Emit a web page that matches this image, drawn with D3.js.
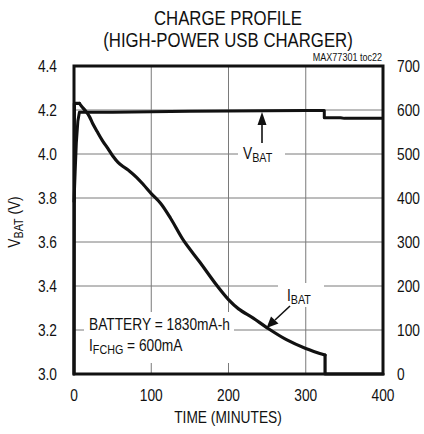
<!DOCTYPE html>
<html><head><meta charset="utf-8">
<script src="https://cdn.jsdelivr.net/npm/d3@7"></script>
<style>html,body{margin:0;padding:0;background:#fff;}svg{display:block;}</style>
</head><body>
<svg id="chart" width="424" height="434"></svg>
<script>
// ---- data ----
const xTicks = [0, 100, 200, 300, 400];
const vTicks = [3.0, 3.2, 3.4, 3.6, 3.8, 4.0, 4.2, 4.4];
const iTicks = [0, 100, 200, 300, 400, 500, 600, 700];

const vbatTime = [0, 1.5, 3, 5, 7, 9, 50, 100, 150, 200, 250, 300, 324, 324, 326, 345, 350, 400];
const vbatVolt = [3.78, 3.92, 4.05, 4.15, 4.19, 4.19, 4.19, 4.192, 4.194, 4.196, 4.197, 4.198, 4.198, 4.165, 4.165, 4.165, 4.162, 4.162];

const ibatTime = [0, 0.5, 7, 10, 15, 20, 24, 30, 37, 44, 50, 57, 64, 72, 81, 90, 100, 112, 125, 142, 163, 185, 200, 213, 232, 250, 275, 300, 325, 325, 400];
const ibatCurr = [0, 615, 615, 608, 598, 585, 570, 551, 530, 512, 496, 481, 471, 461, 447, 430, 410, 388, 354, 303, 254, 201, 169, 148, 127, 105, 78, 58, 43, 0, 0];

// ---- layout ----
const svg = d3.select("#chart");
const L = 74, T = 66, W = 309, H = 308;
const x = d3.scaleLinear().domain([0, 400]).range([L, L + W]);
const yV = d3.scaleLinear().domain([3.0, 4.4]).range([T + H, T]);
const yI = d3.scaleLinear().domain([0, 700]).range([T + H, T]);
const FONT = "'Liberation Sans', Arial, Helvetica, sans-serif";
const SX = 0.86;

function txt(xp, yp, anchor, size, s) {
  return svg.append("text")
    .attr("transform", `translate(${xp},${yp}) scale(${s === undefined ? SX : s},1)`)
    .attr("text-anchor", anchor)
    .attr("font-family", FONT)
    .attr("font-size", size)
    .attr("fill", "#111");
}

// gridlines
const grid = svg.append("g").attr("stroke", "#7a7a7a").attr("stroke-width", 1);
grid.selectAll("line.v").data(xTicks.slice(1, -1)).join("line")
  .attr("x1", d => x(d)).attr("x2", d => x(d)).attr("y1", T).attr("y2", T + H);
grid.selectAll("line.h").data(vTicks.slice(1, -1)).join("line")
  .attr("x1", L).attr("x2", L + W).attr("y1", d => yV(d)).attr("y2", d => yV(d));

// white label backgrounds (interrupt gridlines)
svg.append("rect").attr("x", 238).attr("y", 144).attr("width", 47).attr("height", 22).attr("fill", "#fff");
svg.append("rect").attr("x", 278).attr("y", 283).attr("width", 46).attr("height", 24).attr("fill", "#fff");
svg.append("rect").attr("x", 84).attr("y", 312).attr("width", 150).attr("height", 51).attr("fill", "#fff");

// curves
const vPts = vbatTime.map((t, i) => [t, vbatVolt[i]]);
const iPts = ibatTime.map((t, i) => [t, ibatCurr[i]]);
const lineV = d3.line().x(d => x(d[0])).y(d => yV(d[1]));
const lineILin = d3.line().x(d => x(d[0])).y(d => yI(d[1]));
const lineISmooth = d3.line().curve(d3.curveCatmullRom.alpha(0.5)).x(d => x(d[0])).y(d => yI(d[1]));
const n = iPts.length;
svg.append("path").attr("d", lineV(vPts)).attr("fill", "none").attr("stroke", "#111")
  .attr("stroke-width", 3).attr("stroke-linejoin", "round");
const iG = svg.append("g").attr("fill", "none").attr("stroke", "#111")
  .attr("stroke-width", 3.2).attr("stroke-linejoin", "round").attr("stroke-linecap", "round");
iG.append("path").attr("d", lineILin(iPts.slice(0, 3)));
iG.append("path").attr("d", lineISmooth(iPts.slice(2, n - 2)));
iG.append("path").attr("d", lineILin(iPts.slice(n - 3)));

// frame
svg.append("rect").attr("x", L).attr("y", T).attr("width", W).attr("height", H)
  .attr("fill", "none").attr("stroke", "#111").attr("stroke-width", 3);

// axes labels
vTicks.forEach(v => txt(57, yV(v) + 5.5, "end", 16).text(v.toFixed(1)));
iTicks.forEach(v => txt(397, yI(v) + 5.5, "start", 16).text(v));
xTicks.forEach(v => txt(x(v), 401, "middle", 16).text(v));
txt(228, 423, "middle", 16).text("TIME (MINUTES)");

// y-axis title
const yt = svg.append("text")
  .attr("transform", `translate(20,222) rotate(-90) scale(${SX},1)`)
  .attr("text-anchor", "middle").attr("font-family", FONT).attr("font-size", 16).attr("fill", "#111");
yt.append("tspan").text("V");
yt.append("tspan").attr("font-size", 12.5).attr("dy", 3).text("BAT");
yt.append("tspan").attr("dy", -3).text(" (V)");

// titles
txt(228, 25, "middle", 19.5).text("CHARGE PROFILE");
txt(228, 47, "middle", 19.5).text("(HIGH-POWER USB CHARGER)");
txt(382, 61, "end", 10.5).text("MAX77301 toc22");

// VBAT annotation
const va = txt(243, 159, "start", 16);
va.append("tspan").text("V");
va.append("tspan").attr("font-size", 12.5).attr("dy", 2.5).text("BAT");
svg.append("line").attr("x1", 262).attr("x2", 262).attr("y1", 143).attr("y2", 124)
  .attr("stroke", "#111").attr("stroke-width", 1.6);
svg.append("path").attr("d", "M262,112 L257.5,125 L266.5,125 Z").attr("fill", "#111");

// IBAT annotation
const ia = txt(287, 301, "start", 16);
ia.append("tspan").text("I");
ia.append("tspan").attr("font-size", 12.5).attr("dy", 2.5).text("BAT");
svg.append("line").attr("x1", 290).attr("y1", 306).attr("x2", 275).attr("y2", 320)
  .attr("stroke", "#111").attr("stroke-width", 1.6);
svg.append("path").attr("d", "M266.5,328 L271,316.5 L278.5,323.5 Z").attr("fill", "#111");

// battery note
txt(89, 330, "start", 16).text("BATTERY = 1830mA-h");
const ic = txt(89, 351, "start", 16);
ic.append("tspan").text("I");
ic.append("tspan").attr("font-size", 12.5).attr("dy", 2.5).text("FCHG");
ic.append("tspan").attr("dy", -2.5).text(" = 600mA");
</script>
</body></html>
